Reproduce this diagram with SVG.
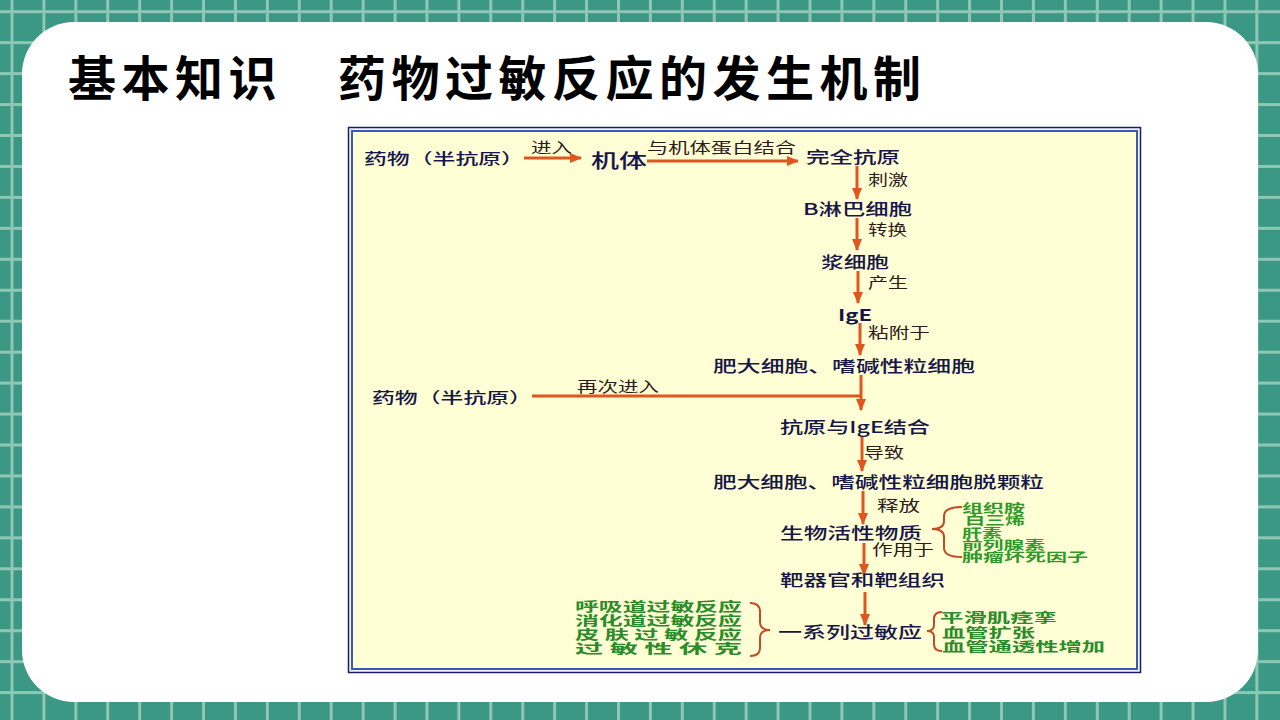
<svg xmlns="http://www.w3.org/2000/svg" width="1280" height="720" viewBox="0 0 1280 720">
<defs>
<pattern id="grid" patternUnits="userSpaceOnUse" x="10.5" y="10.2" width="31.92" height="30.95">
<rect width="31.92" height="30.95" fill="#3b9884"/>
<rect x="0" y="0" width="3" height="30.95" fill="#8fc7b5"/>
<rect x="0" y="0" width="31.92" height="3" fill="#8fc7b5"/>
</pattern>
<marker id="ah" markerUnits="userSpaceOnUse" markerWidth="12" markerHeight="10" refX="11" refY="5" orient="auto">
<path d="M0,0 L12,5 L0,10 Z" fill="#e0561e"/>
</marker>
<style>
.t{font-family:"Noto Sans CJK SC","Noto Sans",sans-serif;}
.title{font-size:48px;font-weight:bold;fill:#000;letter-spacing:5.5px;}
.n{font-size:16px;font-weight:500;fill:#16164a;}
.l{font-size:14.5px;fill:#2e1a1a;}
.g{font-size:13px;font-weight:bold;fill:#2a8c2a;}
.g2{font-size:12px;font-weight:bold;fill:#2f9a2a;}
.arr{stroke:#e0561e;stroke-width:3;fill:none;}
.br{stroke:#c24a26;stroke-width:2;fill:none;}
</style>
</defs>
<rect width="1280" height="720" fill="url(#grid)"/>
<rect x="22" y="22" width="1236" height="680" rx="52" fill="#ffffff"/>
<g id="title" class="t title">
<text x="68" y="96">基本知识</text>
<text x="338" y="96">药物过敏反应的发生机制</text>
</g>
<g id="frame">
<rect x="348.5" y="127.5" width="792" height="545" fill="#f4f2ff" stroke="#1c1c6a" stroke-width="1.5"/>
<rect x="352" y="131" width="785" height="538" fill="#fffed4" stroke="#3a58b8" stroke-width="2"/>
</g>
<g id="connectors">
<line class="arr" x1="524" y1="158" x2="581" y2="158" marker-end="url(#ah)"/>
<line class="arr" x1="647" y1="161" x2="798" y2="161" marker-end="url(#ah)"/>
<line class="arr" x1="857" y1="166" x2="857" y2="199" marker-end="url(#ah)"/>
<line class="arr" x1="857" y1="218" x2="857" y2="250" marker-end="url(#ah)"/>
<line class="arr" x1="858" y1="271" x2="858" y2="303" marker-end="url(#ah)"/>
<line class="arr" x1="860" y1="323" x2="860" y2="355" marker-end="url(#ah)"/>
<line class="arr" x1="861" y1="375" x2="861" y2="410" marker-end="url(#ah)"/>
<line class="arr" x1="532" y1="396" x2="861" y2="396" stroke-width="2"/>
<line class="arr" x1="862" y1="437" x2="862" y2="471" marker-end="url(#ah)"/>
<line class="arr" x1="863" y1="491" x2="863" y2="524" marker-end="url(#ah)"/>
<line class="arr" x1="864" y1="543" x2="864" y2="575" marker-end="url(#ah)"/>
<line class="arr" x1="865" y1="592" x2="865" y2="625" marker-end="url(#ah)"/>
<path class="br" d="M962 507 Q944 507 944 516 L944 521 Q944 529 932 529 Q944 529 944 537 L944 548 Q944 557 962 557"/>
<path class="br" d="M750 603 Q760 603 760 612 L760 622 Q760 630 770 630 Q760 630 760 638 L760 648 Q760 656 750 656"/>
<path class="br" d="M942 612 Q934 612 934 619 L934 625 Q934 631 927 631 Q934 631 934 637 L934 644 Q934 651 942 651"/>
</g>
<g id="labels" class="t l">
<text x="531" y="153" textLength="41" lengthAdjust="spacingAndGlyphs">进入</text>
<text x="647" y="153" textLength="149" lengthAdjust="spacingAndGlyphs">与机体蛋白结合</text>
<text x="868" y="185" textLength="40" lengthAdjust="spacingAndGlyphs">刺激</text>
<text x="868" y="235" textLength="39" lengthAdjust="spacingAndGlyphs">转换</text>
<text x="868" y="288" textLength="40" lengthAdjust="spacingAndGlyphs">产生</text>
<text x="868" y="338" textLength="62" lengthAdjust="spacingAndGlyphs">粘附于</text>
<text x="577" y="392" textLength="82" lengthAdjust="spacingAndGlyphs">再次进入</text>
<text x="864" y="458" textLength="40" lengthAdjust="spacingAndGlyphs">导致</text>
<text x="877" y="511" textLength="43" lengthAdjust="spacingAndGlyphs">释放</text>
<text x="872" y="555" textLength="62" lengthAdjust="spacingAndGlyphs">作用于</text>
</g>
<g id="drug1" class="t n"><text x="364" y="164" font-size="15" textLength="160" lengthAdjust="spacingAndGlyphs">药物（半抗原）</text></g>
<g id="body" class="t n"><text x="591" y="168" font-size="19" textLength="56" lengthAdjust="spacingAndGlyphs">机体</text></g>
<g id="antigen" class="t n"><text x="806" y="163" textLength="94" lengthAdjust="spacingAndGlyphs">完全抗原</text></g>
<g id="bcell" class="t n"><text x="803" y="215" textLength="109" lengthAdjust="spacingAndGlyphs">B淋巴细胞</text></g>
<g id="plasma" class="t n"><text x="821" y="268" textLength="68" lengthAdjust="spacingAndGlyphs">浆细胞</text></g>
<g id="ige" class="t n"><text x="838" y="321" font-weight="bold" textLength="34" lengthAdjust="spacingAndGlyphs">IgE</text></g>
<g id="mast" class="t n"><text x="713" y="372" textLength="262" lengthAdjust="spacingAndGlyphs">肥大细胞、嗜碱性粒细胞</text></g>
<g id="drug2" class="t n"><text x="372" y="403" font-size="15" textLength="160" lengthAdjust="spacingAndGlyphs">药物（半抗原）</text></g>
<g id="bind" class="t n"><text x="780" y="433" textLength="150" lengthAdjust="spacingAndGlyphs">抗原与IgE结合</text></g>
<g id="degran" class="t n"><text x="713" y="488" textLength="331" lengthAdjust="spacingAndGlyphs">肥大细胞、嗜碱性粒细胞脱颗粒</text></g>
<g id="bioactive" class="t n"><text x="780" y="539" textLength="142" lengthAdjust="spacingAndGlyphs">生物活性物质</text></g>
<g id="mediators" class="t g2">
<text x="962" y="512.5" textLength="63" lengthAdjust="spacingAndGlyphs">组织胺</text>
<text x="965" y="524.5" textLength="60" lengthAdjust="spacingAndGlyphs">白三烯</text>
<text x="962" y="537.5" textLength="40" lengthAdjust="spacingAndGlyphs">肝素</text>
<text x="962" y="549.5" textLength="83" lengthAdjust="spacingAndGlyphs">前列腺素</text>
<text x="962" y="561.5" textLength="126" lengthAdjust="spacingAndGlyphs">肿瘤坏死因子</text>
</g>
<g id="target" class="t n"><text x="780" y="586" textLength="165" lengthAdjust="spacingAndGlyphs">靶器官和靶组织</text></g>
<g id="reactions" class="t n"><text x="778" y="638" textLength="144" lengthAdjust="spacingAndGlyphs">一系列过敏应</text></g>
<g id="types" class="t g">
<text x="575" y="611" textLength="167" lengthAdjust="spacingAndGlyphs">呼吸道过敏反应</text>
<text x="575" y="625" textLength="167" lengthAdjust="spacingAndGlyphs">消化道过敏反应</text>
<text x="575" y="639" textLength="167" lengthAdjust="spacingAndGlyphs">皮 肤 过 敏 反应</text>
<text x="575" y="653" textLength="167" lengthAdjust="spacingAndGlyphs">过 敏 性 休 克</text>
</g>
<g id="effects" class="t g">
<text x="940" y="622" textLength="117" lengthAdjust="spacingAndGlyphs">平滑肌痉挛</text>
<text x="942" y="637" textLength="93" lengthAdjust="spacingAndGlyphs">血管扩张</text>
<text x="942" y="651" textLength="163" lengthAdjust="spacingAndGlyphs">血管通透性增加</text>
</g>
</svg>
